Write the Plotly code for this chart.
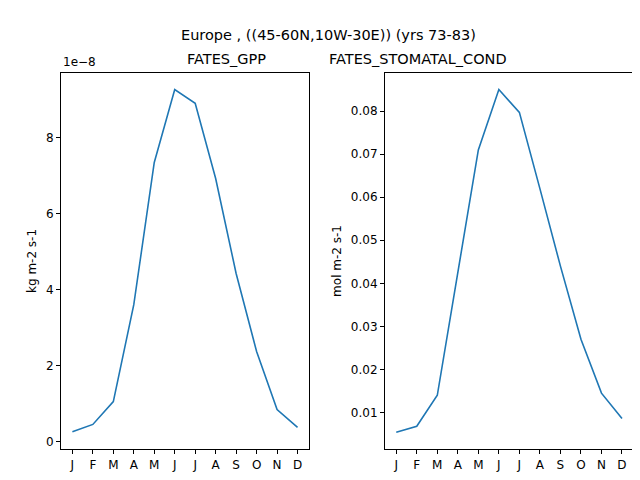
import plotly.graph_objects as go

months = ["J", "F", "M", "A", "M", "J", "J", "A", "S", "O", "N", "D"]
gpp_e8 = [0.26, 0.45, 1.05, 3.6, 7.34, 9.26, 8.9, 6.92, 4.42, 2.37, 0.84, 0.37]
stomatal = [0.0054, 0.0068, 0.014, 0.042, 0.071, 0.085, 0.0797, 0.062, 0.044, 0.027, 0.0145, 0.0086]

x = list(range(12))
blue = "#1f77b4"

fig = go.Figure()
fig.add_trace(go.Scatter(x=x, y=gpp_e8, mode="lines", line=dict(color=blue, width=1.6),
                         xaxis="x", yaxis="y"))
fig.add_trace(go.Scatter(x=x, y=stomatal, mode="lines", line=dict(color=blue, width=1.6),
                         xaxis="x2", yaxis="y2"))

ax = dict(showgrid=False, zeroline=False, showline=True, mirror=True, linecolor="black",
          ticks="outside", tickcolor="black", ticklen=4, automargin=False)
fig.update_layout(
    width=640, height=480, showlegend=False,
    plot_bgcolor="white", paper_bgcolor="white",
    margin=dict(l=0, r=0, t=0, b=0),
    font=dict(family="DejaVu Sans", size=12, color="black"),
    xaxis=dict(ax, domain=[0.083, 0.470], range=[-0.55, 11.55], tickvals=x, ticktext=months, anchor="y"),
    yaxis=dict(ax, domain=[0.081, 0.865], range=[-0.2, 9.7], tickvals=[0, 2, 4, 6, 8],
               title=dict(text="kg m-2 s-1", standoff=6, font=dict(size=12)), anchor="x"),
    xaxis2=dict(ax, domain=[0.589, 0.977], range=[-0.55, 11.55], tickvals=x, ticktext=months, anchor="y2"),
    yaxis2=dict(ax, domain=[0.081, 0.865], range=[0.0015, 0.0889],
                tickvals=[0.01, 0.02, 0.03, 0.04, 0.05, 0.06, 0.07, 0.08], tickformat=".2f",
                title=dict(text="mol m-2 s-1", standoff=6, font=dict(size=12)), anchor="x2"),
    annotations=[
        dict(text="Europe , ((45-60N,10W-30E)) (yrs 73-83)", x=0.5, y=0.965, xref="paper", yref="paper",
             showarrow=False, font=dict(size=14.5)),
        dict(text="FATES_GPP", x=0.2765, y=0.872, xref="paper", yref="paper", yanchor="bottom",
             showarrow=False, font=dict(size=14.5)),
        dict(text="FATES_STOMATAL_COND", x=0.783, y=0.872, xref="paper", yref="paper", yanchor="bottom",
             showarrow=False, font=dict(size=14.5)),
        dict(text="1e\u22128", x=0.083, y=0.868, xref="paper", yref="paper", xanchor="left", yanchor="bottom",
             showarrow=False, font=dict(size=12)),
    ],
)

fig.write_html("out.html")
